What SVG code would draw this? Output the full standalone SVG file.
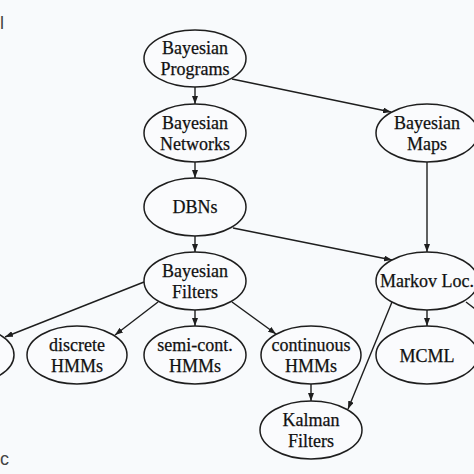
<svg xmlns="http://www.w3.org/2000/svg" width="474" height="474" viewBox="0 0 474 474">
<defs>
<style>
.n ellipse{fill:#fafbfd;stroke:#1e1e1e;stroke-width:1.5}
.n text{font-family:"Liberation Serif","Times New Roman",serif;font-size:18px;fill:#111;stroke:#111;stroke-width:0.25;text-anchor:middle}
.e line{stroke:#1e1e1e;stroke-width:1.4;marker-end:url(#ah)}
.e line.p{marker-end:none}
.lbl{font-family:"Liberation Sans",Arial,sans-serif;font-size:18px;fill:#444}
</style>
<marker id="ah" viewBox="0 0 8 6" refX="8" refY="3" markerWidth="8" markerHeight="6" markerUnits="userSpaceOnUse" orient="auto">
<path d="M0,0 L8,3 L0,6 Z" fill="#1e1e1e"/>
</marker>
</defs>
<rect width="474" height="474" fill="#f8fafc"/>
<text class="lbl" x="0" y="29">l</text>
<text class="lbl" x="0" y="465">c</text>
<g id="edges" class="e">
<line x1="195" y1="87" x2="195" y2="104"/>
<line x1="195" y1="162" x2="195" y2="178"/>
<line x1="195" y1="236" x2="195" y2="252"/>
<line x1="232" y1="79" x2="391" y2="112"/>
<line x1="233" y1="228" x2="392" y2="260"/>
<line x1="427" y1="162" x2="427" y2="252"/>
<line x1="144" y1="282" x2="5" y2="337"/>
<line x1="158" y1="302" x2="115" y2="335"/>
<line x1="195" y1="310" x2="195" y2="326"/>
<line x1="232" y1="302" x2="276" y2="334"/>
<line x1="311" y1="384" x2="311" y2="401"/>
<line x1="392" y1="302" x2="348" y2="409"/>
<line x1="427" y1="310" x2="427" y2="326"/>
<line class="p" x1="466" y1="302" x2="500" y2="328"/>
</g>
<g id="left" class="n"><ellipse cx="-36" cy="355" rx="50" ry="29"/></g>
<g id="programs" class="n"><ellipse cx="195" cy="58.5" rx="51" ry="28.5"/><text x="195" y="54">Bayesian</text><text x="195" y="75">Programs</text></g>
<g id="networks" class="n"><ellipse cx="195" cy="133" rx="51" ry="29"/><text x="195" y="128.5">Bayesian</text><text x="195" y="149.5">Networks</text></g>
<g id="dbns" class="n"><ellipse cx="195" cy="207" rx="51" ry="29"/><text x="195" y="213">DBNs</text></g>
<g id="maps" class="n"><ellipse cx="427" cy="133" rx="51" ry="29"/><text x="427" y="128.5">Bayesian</text><text x="427" y="149.5">Maps</text></g>
<g id="filters" class="n"><ellipse cx="195" cy="281" rx="51" ry="29"/><text x="195" y="276.5">Bayesian</text><text x="195" y="297.5">Filters</text></g>
<g id="markov" class="n"><ellipse cx="427" cy="281" rx="51" ry="29"/><text x="427" y="287">Markov Loc.</text></g>
<g id="discrete" class="n"><ellipse cx="77" cy="355" rx="50" ry="29"/><text x="77" y="350.5">discrete</text><text x="77" y="371.5">HMMs</text></g>
<g id="semi" class="n"><ellipse cx="195" cy="355" rx="51" ry="29"/><text x="195" y="350.5">semi-cont.</text><text x="195" y="371.5">HMMs</text></g>
<g id="continuous" class="n"><ellipse cx="311" cy="355" rx="50" ry="29"/><text x="311" y="350.5">continuous</text><text x="311" y="371.5">HMMs</text></g>
<g id="mcml" class="n"><ellipse cx="427" cy="355" rx="51" ry="29"/><text x="427" y="361.5">MCML</text></g>
<g id="kalman" class="n"><ellipse cx="311" cy="430" rx="51" ry="29"/><text x="311" y="425.5">Kalman</text><text x="311" y="446.5">Filters</text></g>
</svg>
